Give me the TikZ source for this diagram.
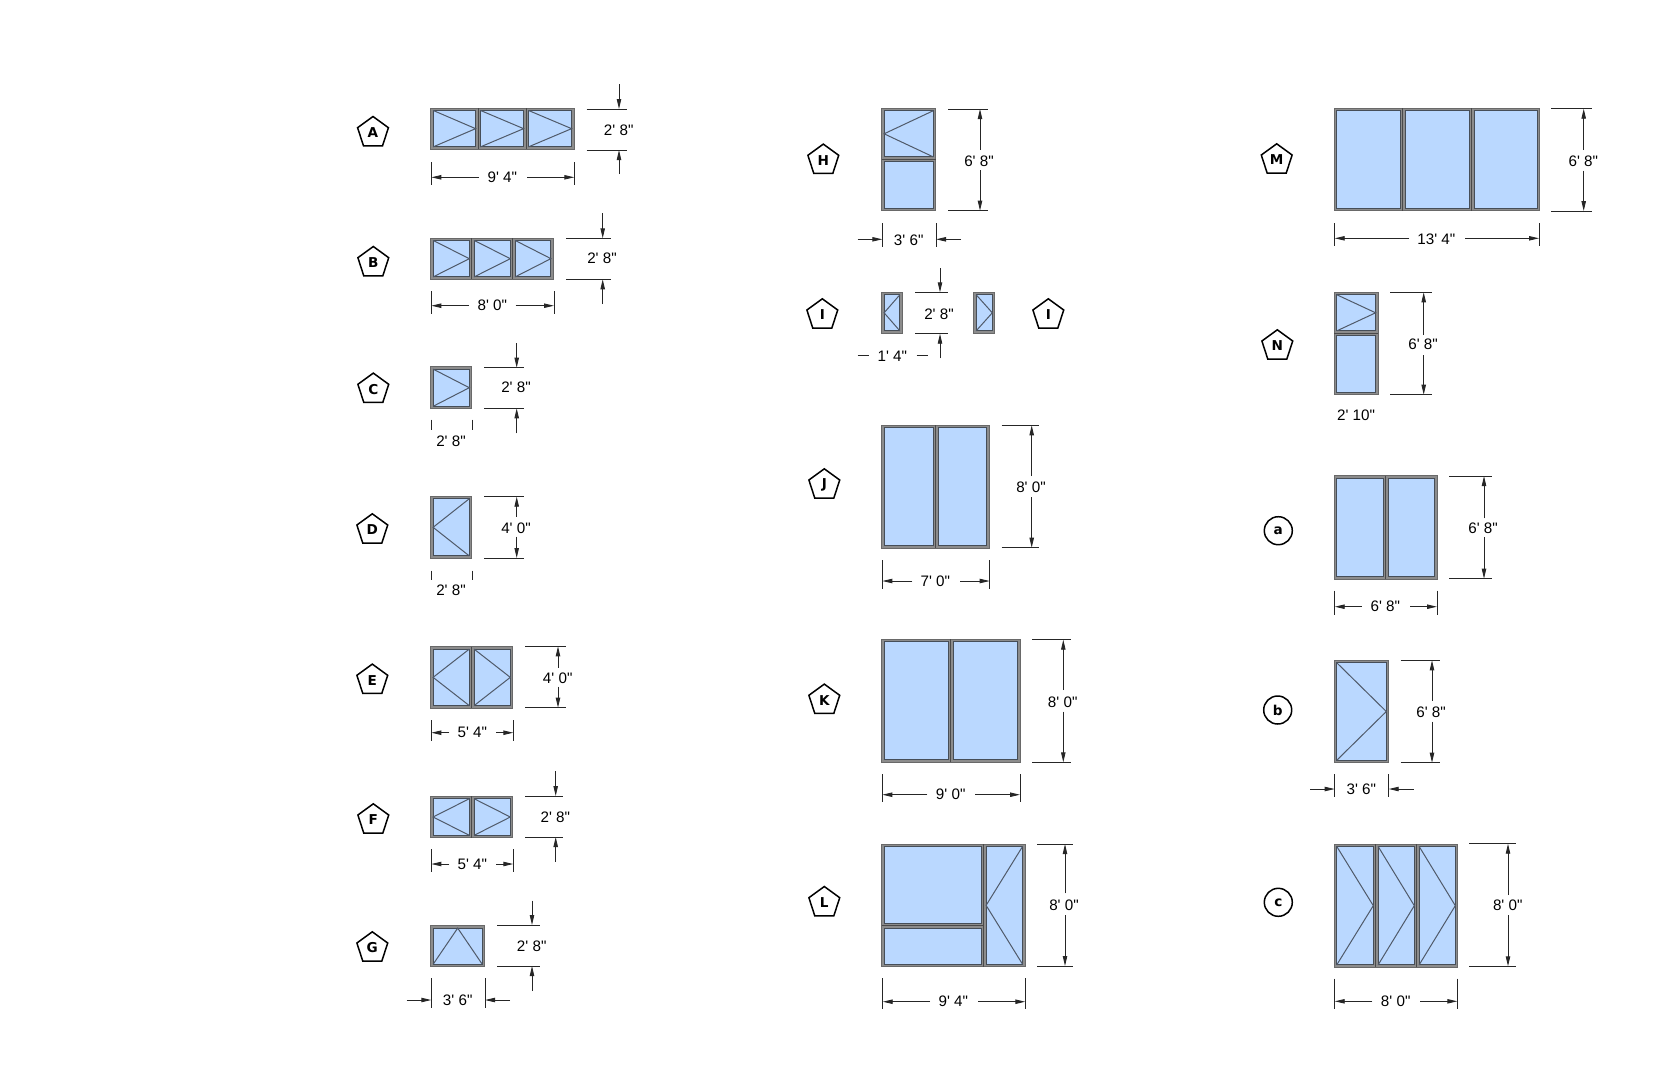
\documentclass[tikz,border=0pt]{standalone}
\usepackage{fontspec}
\newfontfamily\dimfont{Liberation Sans}
\newfontfamily\tagfont{DejaVu Sans}
\usetikzlibrary{arrows.meta,shapes.geometric}
\definecolor{glass}{RGB}{186,216,255}
\definecolor{framegray}{RGB}{140,140,140}
\definecolor{frameedge}{RGB}{105,105,105}
\definecolor{paneedge}{RGB}{70,78,88}
\definecolor{sashline}{RGB}{80,90,105}
\tikzset{
  framebox/.style={fill=framegray,draw=frameedge,line width=0.5pt},
  mullion/.style={draw=frameedge!70!black,line width=0.5pt},
  panebox/.style={fill=glass,draw=paneedge,line width=0.55pt},
  sash/.style={draw=sashline,line width=0.5pt},
  pent/.style={regular polygon,regular polygon sides=5,draw=black,fill=white,line width=0.75pt,minimum size=16.2pt,inner sep=0pt,font=\tagfont\bfseries\fontsize{6.8}{7}\selectfont},
  disc/.style={circle,draw=black,fill=white,line width=0.75pt,minimum size=14pt,inner sep=0pt,font=\tagfont\bfseries\fontsize{6.8}{7}\selectfont},
  dimtext/.style={font=\dimfont\fontsize{7.6}{8}\selectfont,inner sep=0pt},
  extline/.style={draw=black!85,line width=0.45pt},
  dimarrow/.style={draw=black!85,line width=0.45pt,-{Triangle[length=5pt,width=2.2pt]}},
  dimplain/.style={draw=black!85,line width=0.45pt}
}
% window parts (pixel coordinates; cell bounds, inset applied here)
\newcommand\winframe[4]{\draw[framebox] (#1,#2) rectangle (#3,#4);}
\newcommand\vmull[3]{\draw[mullion] (#1,#2) -- (#1,#3);}
\newcommand\hmull[3]{\draw[mullion] (#2,#1) -- (#3,#1);}
\newcommand\pane[4]{\draw[panebox] (#1+2.4,#2+2.4) rectangle (#3-2.4,#4-2.4);}
\newcommand\paneR[4]{\pane{#1}{#2}{#3}{#4}\draw[sash] (#1+2.4,#2+2.4) -- (#3-2.4,{(#2+#4)/2}) -- (#1+2.4,#4-2.4);}
\newcommand\paneL[4]{\pane{#1}{#2}{#3}{#4}\draw[sash] (#3-2.4,#2+2.4) -- (#1+2.4,{(#2+#4)/2}) -- (#3-2.4,#4-2.4);}
\newcommand\paneT[4]{\pane{#1}{#2}{#3}{#4}\draw[sash] (#1+2.4,#4-2.4) -- ({(#1+#3)/2},#2+2.4) -- (#3-2.4,#4-2.4);}
% vertical dimension: id, ext x from, ext x to, top y, bottom y, arrow x
\newcommand\vext[6]{%
  \coordinate (#1-ta) at (#2,#4); \coordinate (#1-tb) at (#3,#4);
  \coordinate (#1-ba) at (#2,#5); \coordinate (#1-bb) at (#3,#5);
  \coordinate (#1-t) at (#6,#4); \coordinate (#1-b) at (#6,#5);
  \draw[extline] (#1-ta) -- (#1-tb);
  \draw[extline] (#1-ba) -- (#1-bb);}
% arrows inside: id, arrow x, gap top y, gap bottom y
\newcommand\vin[4]{%
  \coordinate (#1-gt) at (#2,#3); \coordinate (#1-gb) at (#2,#4);
  \draw[dimarrow] (#1-gt) -- (#1-t);
  \draw[dimarrow] (#1-gb) -- (#1-b);}
% arrows outside: same arguments, free ends
\newcommand\vout[4]{\vin{#1}{#2}{#3}{#4}}
% horizontal dimension: id, left x, right x, tick top y, tick bottom y, arrow y
\newcommand\hext[6]{%
  \coordinate (#1-la) at (#2,#4); \coordinate (#1-lb) at (#2,#5);
  \coordinate (#1-ra) at (#3,#4); \coordinate (#1-rb) at (#3,#5);
  \coordinate (#1-l) at (#2,#6); \coordinate (#1-r) at (#3,#6);
  \draw[extline] (#1-la) -- (#1-lb);
  \draw[extline] (#1-ra) -- (#1-rb);}
% arrows: id, arrow y, free x at left arrow, free x at right arrow
\newcommand\harr[4]{%
  \coordinate (#1-gl) at (#3,#2); \coordinate (#1-gr) at (#4,#2);
  \draw[dimarrow] (#1-gl) -- (#1-l);
  \draw[dimarrow] (#1-gr) -- (#1-r);}
\begin{document}
\begin{tikzpicture}[x=0.5pt,y=-0.5pt]
\useasboundingbox (0,0) rectangle (1666,1078);
% ---- tags
\node[pent] (tA) at (373,132.7) {A};
\node[pent] (tB) at (373.3,262.7) {B};
\node[pent] (tC) at (373.3,389.3) {C};
\node[pent] (tD) at (372.3,530) {D};
\node[pent] (tE) at (372.3,680.3) {E};
\node[pent] (tF) at (373.3,820) {F};
\node[pent] (tG) at (372.3,948) {G};
\node[pent] (tH) at (823.3,160.3) {H};
\node[pent] (tI) at (822.3,315) {I};
\node[pent] (tII) at (1048.3,315) {I};
\node[pent] (tJ) at (824.3,485) {J};
\node[pent] (tK) at (824.3,700.3) {K};
\node[pent] (tL) at (824.3,902.7) {L};
\node[pent] (tM) at (1276.7,160) {M};
\node[pent] (tN) at (1277.3,346) {N};
\node[disc] (ta) at (1278.3,530.7) {a};
\node[disc] (tb) at (1277.7,710) {b};
\node[disc] (tc) at (1278.3,902.3) {c};
% ---- A
\winframe{430.7}{108}{574}{149.3}
\paneR{430.7}{108}{478}{149.3}\paneR{478}{108}{526}{149.3}\paneR{526}{108}{574}{149.3}
\vmull{478}{108}{149.3}\vmull{526}{108}{149.3}
\vext{av}{586.7}{626.7}{109}{150}{619}\vout{av}{619}{84}{174}
\node[dimtext] (avt) at (618.7,130.3) {2' 8"};
\hext{ah}{431.3}{574.3}{162.3}{185}{177.3}\harr{ah}{177.3}{479}{527}
\node[dimtext] (aht) at (502.3,177.3) {9' 4"};
% ---- B
\winframe{430.7}{238}{553.3}{279.3}
\paneR{430.7}{238}{471.7}{279.3}\paneR{471.7}{238}{512.7}{279.3}\paneR{512.7}{238}{553.3}{279.3}
\vmull{471.7}{238}{279.3}\vmull{512.7}{238}{279.3}
\vext{bv}{566}{610.7}{238.3}{279.3}{602.7}\vout{bv}{602.7}{213.3}{304}
\node[dimtext] (bvt) at (602,258.3) {2' 8"};
\hext{bh}{431.3}{554}{291.3}{314}{305.7}\harr{bh}{305.7}{469}{515.7}
\node[dimtext] (bht) at (492.3,305.7) {8' 0"};
% ---- C
\winframe{430.7}{366.7}{471.7}{408.7}
\paneR{430.7}{366.7}{471.7}{408.7}
\vext{cv}{484}{524.3}{367.7}{408.3}{516.7}\vout{cv}{516.7}{343.3}{433.3}
\node[dimtext] (cvt) at (516,387.7) {2' 8"};
\hext{ch}{431.3}{472.3}{419.7}{429.7}{425}
\node[dimtext] (cht) at (451,441.7) {2' 8"};
% ---- D
\winframe{430.7}{496.3}{471.7}{558.3}
\paneL{430.7}{496.3}{471.7}{558.3}
\vext{dv}{484}{524.3}{496.7}{558}{516.7}\vin{dv}{516.7}{516.7}{536.7}
\node[dimtext] (dvt) at (516,528.3) {4' 0"};
\hext{dh}{431.3}{472.3}{570.7}{580}{575}
\node[dimtext] (dht) at (451,590) {2' 8"};
% ---- E
\winframe{430.7}{646.7}{512.7}{708}
\paneL{430.7}{646.7}{471.7}{708}\paneR{471.7}{646.7}{512.7}{708}
\vmull{471.7}{646.7}{708}
\vext{ev}{525}{565.7}{646.3}{707.7}{558}\vin{ev}{558}{667.7}{686.7}
\node[dimtext] (evt) at (557.7,678.3) {4' 0"};
\hext{eh}{431.3}{513.3}{720}{740.7}{732.7}\harr{eh}{732.7}{449.3}{496}
\node[dimtext] (eht) at (472.3,732.7) {5' 4"};
% ---- F
\winframe{430.7}{796.3}{512.7}{837.7}
\paneL{430.7}{796.3}{471.7}{837.7}\paneR{471.7}{796.3}{512.7}{837.7}
\vmull{471.7}{796.3}{837.7}
\vext{fv}{525}{563.3}{796}{837}{555.7}\vout{fv}{555.7}{771.3}{861.7}
\node[dimtext] (fvt) at (555.3,817.3) {2' 8"};
\hext{fh}{431.3}{513.3}{849}{871.7}{864}\harr{fh}{864}{449.3}{496}
\node[dimtext] (fht) at (472.3,864) {5' 4"};
% ---- G
\winframe{430.7}{925.7}{484.7}{966.7}
\paneT{430.7}{925.7}{484.7}{966.7}
\vext{gv}{497}{540}{925}{966}{532}\vout{gv}{532}{900.7}{991}
\node[dimtext] (gvt) at (531.7,946) {2' 8"};
\hext{gh}{431.3}{485}{978.3}{1008.3}{1000}\harr{gh}{1000}{406.7}{510}
\node[dimtext] (ght) at (457.7,1000.7) {3' 6"};
% ---- H
\winframe{881.7}{108.3}{935.7}{210.7}
\paneL{881.7}{108.3}{935.7}{159.3}\pane{881.7}{159.3}{935.7}{210.7}
\hmull{159.3}{881.7}{935.7}
\vext{hv}{948}{987.7}{109}{210.7}{980}\vin{hv}{980}{150}{170}
\node[dimtext] (hvt) at (979,161) {6' 8"};
\hext{hh}{882.3}{936}{223.3}{246.7}{239.3}\harr{hh}{239.3}{857.7}{961}
\node[dimtext] (hht) at (908.7,240) {3' 6"};
% ---- I
\winframe{881.7}{292.3}{902.3}{333.3}
\paneL{881.7}{292.3}{902.3}{333.3}
\winframe{973.7}{292.3}{994.7}{333.3}
\paneR{973.7}{292.3}{994.7}{333.3}
\vext{iv}{915}{947.7}{292.3}{333.7}{940}\vout{iv}{940}{268.3}{358.3}
\node[dimtext] (ivt) at (939,314.3) {2' 8"};
\node[dimtext] (iht) at (892.3,356) {1' 4"};
\coordinate (ihla) at (857.7,355.7); \coordinate (ihlb) at (869,355.7);
\coordinate (ihra) at (916.7,355.7); \coordinate (ihrb) at (927.7,355.7);
\draw[dimplain] (ihla) -- (ihlb);
\draw[dimplain] (ihra) -- (ihrb);
% ---- J
\winframe{881.7}{425}{989.3}{548.3}
\pane{881.7}{425}{935.7}{548.3}\pane{935.7}{425}{989.3}{548.3}
\vmull{935.7}{425}{548.3}
\vext{jv}{1001.7}{1039.3}{425.3}{547.7}{1031.7}\vin{jv}{1031.7}{476}{497.3}
\node[dimtext] (jvt) at (1031,487.7) {8' 0"};
\hext{jh}{882.3}{989.7}{560}{589}{581}\harr{jh}{581}{912.3}{960}
\node[dimtext] (jht) at (935.3,581.7) {7' 0"};
% ---- K
\winframe{881.7}{639.3}{1020}{762.3}
\pane{881.7}{639.3}{950.7}{762.3}\pane{950.7}{639.3}{1020}{762.3}
\vmull{950.7}{639.3}{762.3}
\vext{kv}{1032.3}{1071}{639.7}{762.3}{1063.3}\vin{kv}{1063.3}{690}{711.7}
\node[dimtext] (kvt) at (1062.7,702.7) {8' 0"};
\hext{kh}{882.3}{1020}{774.3}{802.3}{794.7}\harr{kh}{794.7}{927.3}{975}
\node[dimtext] (kht) at (950.7,794.7) {9' 0"};
% ---- L
\winframe{881.7}{844}{1025}{966.7}
\pane{881.7}{844}{983.7}{925.7}\pane{881.7}{925.7}{983.7}{966.7}\paneL{983.7}{844}{1025}{966.7}
\vmull{983.7}{844}{966.7}\hmull{925.7}{881.7}{983.7}
\vext{lv}{1037.3}{1072.7}{844}{966}{1065}\vin{lv}{1065}{893.3}{915}
\node[dimtext] (lvt) at (1064,905) {8' 0"};
\hext{lh}{882.7}{1025.3}{978.3}{1009}{1001.7}\harr{lh}{1001.7}{930}{978.3}
\node[dimtext] (lht) at (953.3,1001.7) {9' 4"};
% ---- M
\winframe{1334.3}{108.3}{1539.7}{210.7}
\pane{1334.3}{108.3}{1402.7}{210.7}\pane{1402.7}{108.3}{1471.7}{210.7}\pane{1471.7}{108.3}{1539.7}{210.7}
\vmull{1402.7}{108.3}{210.7}\vmull{1471.7}{108.3}{210.7}
\vext{mv}{1551.3}{1591.7}{108.7}{211}{1583.7}\vin{mv}{1583.7}{150}{170.7}
\node[dimtext] (mvt) at (1583.3,161) {6' 8"};
\hext{mh}{1334.7}{1539}{223.3}{245.7}{238.3}\harr{mh}{238.3}{1409.3}{1465}
\node[dimtext] (mht) at (1436.3,239) {13' 4"};
% ---- N
\winframe{1334.3}{292.3}{1378}{394.7}
\paneR{1334.3}{292.3}{1378}{333.3}\pane{1334.3}{333.3}{1378}{394.7}
\hmull{333.3}{1334.3}{1378}
\vext{nv}{1390.3}{1431.7}{292.3}{394.7}{1423.7}\vin{nv}{1423.7}{335}{355}
\node[dimtext] (nvt) at (1423,344) {6' 8"};
\node[dimtext] (nht) at (1356,415.7) {2' 10"};
% ---- a
\winframe{1334.3}{475.7}{1437}{579}
\pane{1334.3}{475.7}{1385.7}{579}\pane{1385.7}{475.7}{1437}{579}
\vmull{1385.7}{475.7}{579}
\vext{pv}{1449}{1491.7}{476}{578.7}{1484}\vin{pv}{1484}{518.3}{537.3}
\node[dimtext] (pvt) at (1483,528.3) {6' 8"};
\hext{ph}{1334.7}{1437}{590.7}{615}{606.7}\harr{ph}{606.7}{1361.7}{1410}
\node[dimtext] (pht) at (1385.3,606.7) {6' 8"};
% ---- b
\winframe{1334.3}{660.3}{1388.7}{762.7}
\paneR{1334.3}{660.3}{1388.7}{762.7}
\vext{qv}{1400.7}{1439.7}{660.3}{762.7}{1432}\vin{qv}{1432}{700.7}{721.7}
\node[dimtext] (qvt) at (1431,712.3) {6' 8"};
\hext{qh}{1334.7}{1388.7}{774.3}{796.7}{789}\harr{qh}{789}{1310}{1413.7}
\node[dimtext] (qht) at (1361.3,789) {3' 6"};
% ---- c
\winframe{1334.3}{844}{1457.7}{967.3}
\paneR{1334.3}{844}{1375.7}{967.3}\paneR{1375.7}{844}{1416.7}{967.3}\paneR{1416.7}{844}{1457.7}{967.3}
\vmull{1375.7}{844}{967.3}\vmull{1416.7}{844}{967.3}
\vext{rv}{1469.3}{1516}{843.7}{966.3}{1508}\vin{rv}{1508}{895}{915}
\node[dimtext] (rvt) at (1507.7,905.7) {8' 0"};
\hext{rh}{1334.7}{1457.3}{978.7}{1009.3}{1001.3}\harr{rh}{1001.3}{1372.3}{1420}
\node[dimtext] (rht) at (1395.7,1001.7) {8' 0"};
\end{tikzpicture}
\end{document}
